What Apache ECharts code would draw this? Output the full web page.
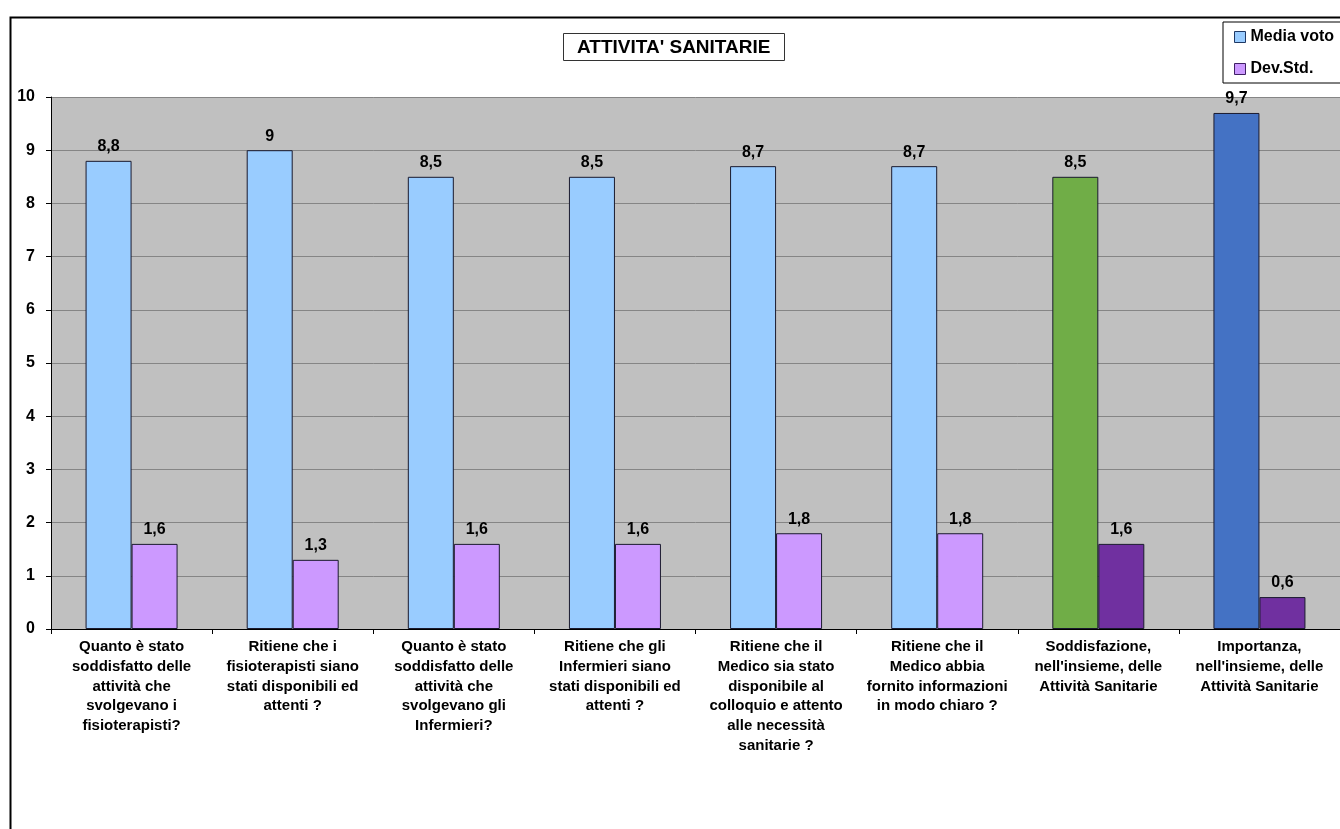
<!DOCTYPE html>
<html>
<head>
<meta charset="utf-8">
<script src="https://cdn.jsdelivr.net/npm/echarts@6/dist/echarts.min.js"></script>
<style>
  html, body { margin: 0; padding: 0; background: #fff; }
  #chart { width: 1340px; height: 829px; }
</style>
</head>
<body>
<div id="chart"></div>
<script>
// Survey questions (x categories)
const categories = [
  "Quanto è stato\nsoddisfatto delle\nattività che\nsvolgevano i\nfisioterapisti?",
  "Ritiene che i\nfisioterapisti siano\nstati disponibili ed\nattenti ?",
  "Quanto è stato\nsoddisfatto delle\nattività che\nsvolgevano gli\nInfermieri?",
  "Ritiene che gli\nInfermieri siano\nstati disponibili ed\nattenti ?",
  "Ritiene che il\nMedico sia stato\ndisponibile al\ncolloquio e attento\nalle necessità\nsanitarie ?",
  "Ritiene che il\nMedico abbia\nfornito informazioni\nin modo chiaro ?",
  "Soddisfazione,\nnell'insieme, delle\nAttività Sanitarie",
  "Importanza,\nnell'insieme, delle\nAttività Sanitarie"
];

// Average score and standard deviation per question
const mediaVoto = [8.8, 9, 8.5, 8.5, 8.7, 8.7, 8.5, 9.7];
const devStd = [1.6, 1.3, 1.6, 1.6, 1.8, 1.8, 1.6, 0.6];

// Bar fill colours per question (the two summary questions stand out)
const mediaColors = ["#99CCFF", "#99CCFF", "#99CCFF", "#99CCFF", "#99CCFF", "#99CCFF", "#70AD47", "#4472C4"];
const devColors = ["#CC99FF", "#CC99FF", "#CC99FF", "#CC99FF", "#CC99FF", "#CC99FF", "#7030A0", "#7030A0"];

const yTicks = { min: 0, max: 10, interval: 1 };

const FONT = "Liberation Sans, Arial, sans-serif";

const chart = echarts.init(document.getElementById("chart"), null, { renderer: "canvas" });

const fmt = v => String(v).replace(".", ",");

const labelStyle = {
  show: true,
  position: "top",
  distance: 6,
  fontFamily: FONT,
  fontWeight: "bold",
  fontSize: 16,
  color: "#000",
  formatter: p => fmt(p.value)
};

chart.setOption({
  animation: false,
  backgroundColor: "#fff",
  textStyle: { fontFamily: FONT },
  title: {
    text: "ATTIVITA' SANITARIE",
    left: 563,
    top: 33,
    padding: [5, 14, 4, 14],
    borderColor: "#333",
    borderWidth: 1,
    backgroundColor: "#fff",
    textStyle: { fontFamily: FONT, fontWeight: "bold", fontSize: 19, color: "#000" }
  },
  legend: {
    orient: "vertical",
    left: 1223,
    top: 22,
    padding: [6, 40, 5, 11],
    itemGap: 14,
    itemWidth: 11,
    itemHeight: 11,
    icon: "rect",
    borderColor: "#000",
    borderWidth: 1,
    backgroundColor: "#fff",
    textStyle: { fontFamily: FONT, fontWeight: "bold", fontSize: 16, lineHeight: 18, color: "#000", padding: [0, 0, 0, 0] },
    data: [
      { name: "Media voto", itemStyle: { color: "#99CCFF", borderColor: "#1F3864", borderWidth: 1 } },
      { name: "Dev.Std.", itemStyle: { color: "#CC99FF", borderColor: "#3F1F64", borderWidth: 1 } }
    ]
  },
  grid: {
    left: 51,
    top: 97,
    width: 1304,
    height: 532,
    show: true,
    backgroundColor: "#C0C0C0",
    borderWidth: 0,
    containLabel: false
  },
  xAxis: {
    type: "category",
    data: categories,
    boundaryGap: true,
    axisLine: { show: true, lineStyle: { color: "#000", width: 1 } },
    axisTick: { show: true, length: 5, lineStyle: { color: "#000" } },
    axisLabel: {
      interval: 0,
      margin: 8,
      fontFamily: FONT,
      fontWeight: "bold",
      fontSize: 15,
      lineHeight: 19.8,
      color: "#000",
      align: "center"
    }
  },
  yAxis: {
    type: "value",
    min: yTicks.min,
    max: yTicks.max,
    interval: yTicks.interval,
    axisLine: { show: true, lineStyle: { color: "#000", width: 1 } },
    axisTick: { show: true, length: 5, lineStyle: { color: "#000" } },
    splitLine: { show: true, lineStyle: { color: "#858585", width: 1 } },
    axisLabel: {
      margin: 16,
      fontFamily: FONT,
      fontWeight: "bold",
      fontSize: 16,
      color: "#000"
    }
  },
  series: [
    {
      name: "Media voto",
      type: "bar",
      barWidth: 46,
      barGap: "0%",
      data: mediaVoto.map((v, i) => ({ value: v, itemStyle: { color: mediaColors[i] } })),
      itemStyle: { borderColor: "#1a1a2e", borderWidth: 1 },
      label: labelStyle
    },
    {
      name: "Dev.Std.",
      type: "bar",
      barWidth: 46,
      barGap: "0%",
      data: devStd.map((v, i) => ({ value: v, itemStyle: { color: devColors[i] } })),
      itemStyle: { borderColor: "#1a1a2e", borderWidth: 1 },
      label: labelStyle
    }
  ],
  graphic: [
    {
      type: "polyline",
      silent: true,
      shape: { points: [[10.5, 829], [10.5, 17.5], [1340, 17.5]] },
      style: { stroke: "#000", lineWidth: 2, fill: null }
    }
  ]
});
</script>
</body>
</html>
